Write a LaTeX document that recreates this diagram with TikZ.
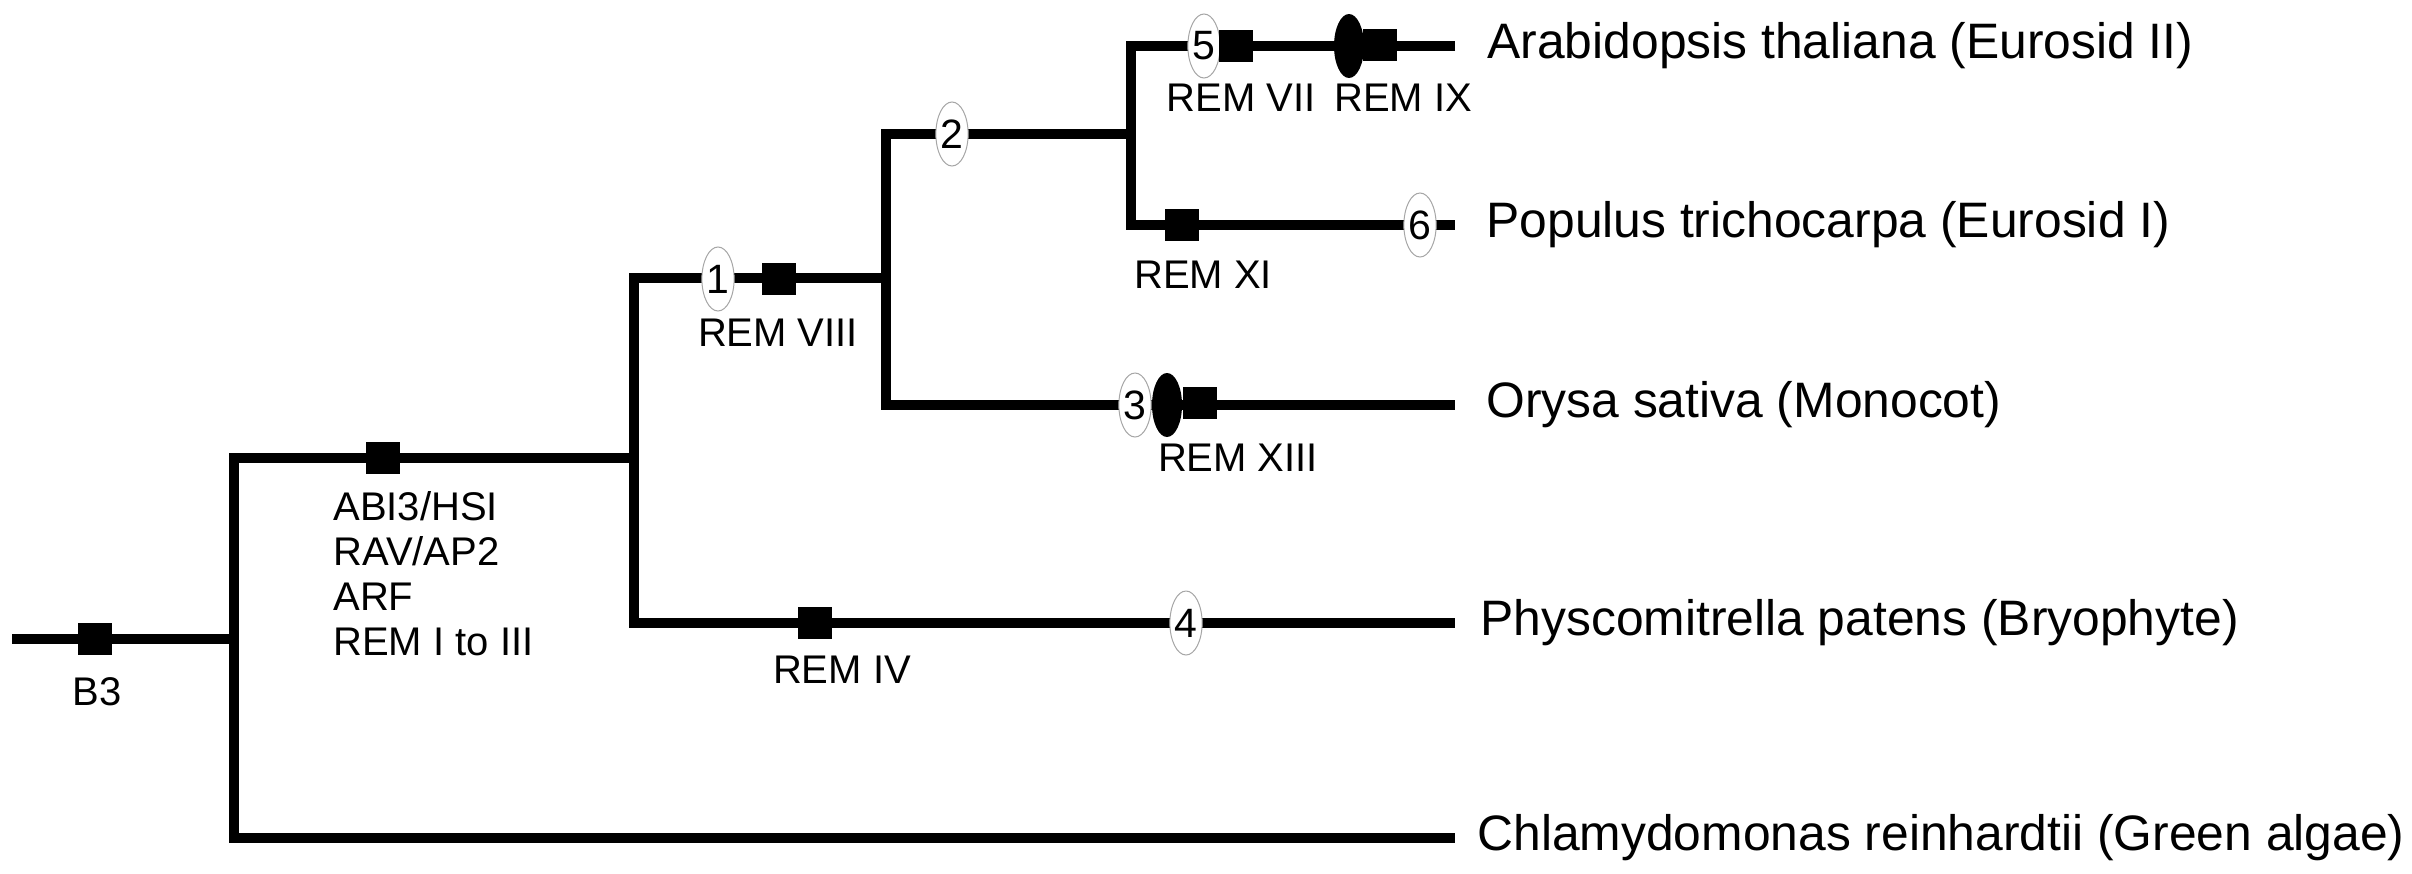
\documentclass[tikz,border=0pt]{standalone}
\usepackage{fontspec}
\setmainfont{Liberation Sans}
\usetikzlibrary{shapes.geometric}
\newcommand\taxonfont{\fontsize{24.9}{30}\selectfont}
\newcommand\tagfont{\fontsize{20}{22.5}\selectfont}
\newcommand\digitfont{\fontsize{20.5}{24}\selectfont}
\tikzset{
  branch/.style={line width=4.6pt, line join=miter},
  gene/.style={fill=black, minimum width=17pt, minimum height=16pt, inner sep=0pt},
  dup/.style={ellipse, draw=gray!70, line width=0.5pt, fill=white,
    minimum width=15.5pt, minimum height=32pt, inner sep=0pt, font=\digitfont},
  blob/.style={ellipse, fill=black, minimum width=15pt, minimum height=32pt, inner sep=0pt},
  tag/.style={font=\tagfont, inner sep=0pt},
  taxon/.style={font=\taxonfont, anchor=west, inner sep=0pt}
}
\begin{document}
\begin{tikzpicture}[x=0.5pt,y=-0.5pt]
  \useasboundingbox (0,0) rectangle (2412,873);
  % tree points
  \coordinate (R) at (12,639);
  \coordinate (A) at (234,639);
  \coordinate (A1) at (234,458);
  \coordinate (A2) at (234,838);
  \coordinate (B) at (634,458);
  \coordinate (B1) at (634,278);
  \coordinate (B2) at (634,623);
  \coordinate (C) at (886,278);
  \coordinate (C1) at (886,134);
  \coordinate (C2) at (886,405);
  \coordinate (D) at (1131,134);
  \coordinate (D1) at (1131,46);
  \coordinate (D2) at (1131,225);
  \coordinate (T1) at (1455,46);
  \coordinate (T2) at (1455,225);
  \coordinate (T3) at (1455,405);
  \coordinate (T4) at (1455,623);
  \coordinate (T5) at (1455,838);
  \draw[branch] (R) -- (A);
  \draw[branch] (B) -- (A1) -- (A2) -- (T5);
  \draw[branch] (C) -- (B1) -- (B2) -- (T4);
  \draw[branch] (D) -- (C1) -- (C2) -- (T3);
  \draw[branch] (T1) -- (D1) -- (D2) -- (T2);
  % markers
  \node[gene] (G0) at (95,639) {};
  \node[gene] (G1) at (383,458) {};
  \node[dup] (E1) at (718,279) {1};
  \node[gene] (G2) at (779,279) {};
  \node[gene] (G3) at (815,623) {};
  \node[dup] (E4) at (1186,623) {4};
  \node[dup] (E3) at (1135,405) {3};
  \node[blob] (K3) at (1167,405) {};
  \node[gene] (G4) at (1200,403) {};
  \node[dup] (E2) at (952,134) {2};
  \node[dup] (E5) at (1204,46) {5};
  \node[gene] (G5) at (1236,46) {};
  \node[blob] (K5) at (1349,46) {};
  \node[gene] (G6) at (1380,45) {};
  \node[gene] (G7) at (1182,225) {};
  \node[dup] (E6) at (1420,225) {6};
  % marker labels
  \node[tag] (L0) at (97,692) {B3};
  \node[tag, align=left, anchor=north west] (L1) at (333,491)
    {ABI3/HSI\\RAV/AP2\\ARF\\REM I to III};
  \node[tag] (L2) at (778,333) {REM VIII};
  \node[tag] (L3) at (842,670) {REM IV};
  \node[tag] (L4) at (1238,458) {REM XIII};
  \node[tag] (L5) at (1241,98) {REM VII};
  \node[tag] (L6) at (1403,98) {REM IX};
  \node[tag] (L7) at (1203,275) {REM XI};
  % taxa
  \node[taxon] (N1) at (1487,46) {Arabidopsis thaliana (Eurosid II)};
  \node[taxon] (N2) at (1486,225) {Populus trichocarpa (Eurosid I)};
  \node[taxon] (N3) at (1486,405) {Orysa sativa (Monocot)};
  \node[taxon] (N4) at (1480,623) {Physcomitrella patens (Bryophyte)};
  \node[taxon] (N5) at (1477,838) {Chlamydomonas reinhardtii (Green algae)};
\end{tikzpicture}
\end{document}
